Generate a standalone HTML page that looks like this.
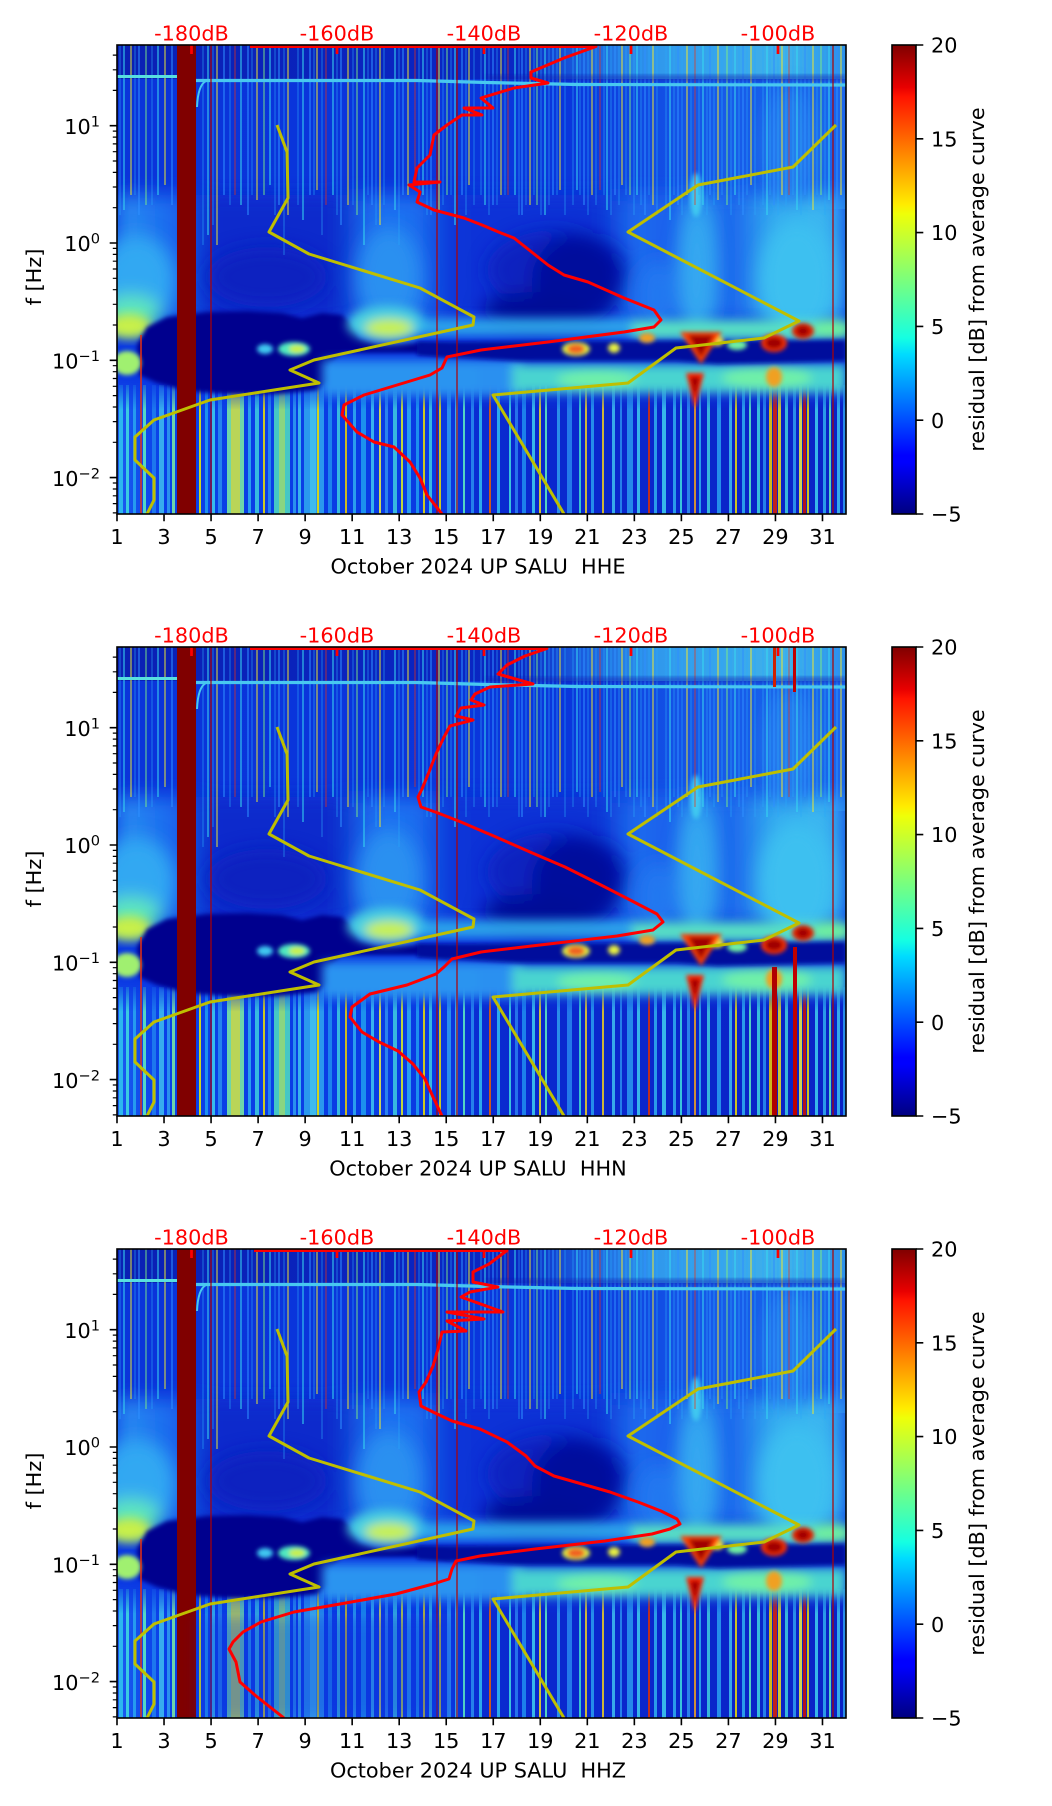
<!DOCTYPE html>
<html><head><meta charset="utf-8">
<style>
html,body{margin:0;padding:0;background:#fff;width:1052px;height:1806px;overflow:hidden}
svg{display:block}
text{font-family:"DejaVu Sans","Liberation Sans",sans-serif;font-size:20.8px;fill:#000}
.r{fill:#ff0000}
</style></head><body>
<svg width="1052" height="1806" viewBox="0 0 1052 1806" xmlns="http://www.w3.org/2000/svg">
<defs>
<filter id="b2" x="-20%" y="-20%" width="140%" height="140%"><feGaussianBlur stdDeviation="2"/></filter>
<filter id="b5" x="-30%" y="-30%" width="160%" height="160%"><feGaussianBlur stdDeviation="5"/></filter>
<filter id="b9" x="-40%" y="-40%" width="180%" height="180%"><feGaussianBlur stdDeviation="9"/></filter>
<clipPath id="clip"><rect width="729" height="469"/></clipPath>
<linearGradient id="jet" x1="0" y1="1" x2="0" y2="0">
<stop offset="0" stop-color="#000080"/><stop offset="0.11" stop-color="#0000ff"/><stop offset="0.125" stop-color="#0000ff"/>
<stop offset="0.34" stop-color="#00dbff"/><stop offset="0.375" stop-color="#15ffe2"/><stop offset="0.64" stop-color="#efff08"/>
<stop offset="0.66" stop-color="#ffec00"/><stop offset="0.89" stop-color="#ff1300"/><stop offset="0.91" stop-color="#e80000"/>
<stop offset="1" stop-color="#800000"/></linearGradient>
<linearGradient id="gTop" x1="0" y1="0" x2="1" y2="0">
<stop offset="0" stop-color="#0a20b4"/><stop offset="0.55" stop-color="#0a26c4"/><stop offset="0.64" stop-color="#1a5ede"/>
<stop offset="0.74" stop-color="#3098ec"/><stop offset="0.92" stop-color="#40b2ea"/><stop offset="1" stop-color="#2c90ea"/></linearGradient>
<linearGradient id="gUp" x1="0" y1="0" x2="1" y2="0">
<stop offset="0" stop-color="#0a34da"/><stop offset="0.62" stop-color="#0a36dc"/><stop offset="0.8" stop-color="#1658e8"/><stop offset="1" stop-color="#1a66ec"/></linearGradient>
<linearGradient id="gMid" x1="0" y1="0" x2="1" y2="0">
<stop offset="0" stop-color="#2a90f2"/><stop offset="0.08" stop-color="#1a66ee"/><stop offset="0.13" stop-color="#0a2ccc"/>
<stop offset="0.3" stop-color="#0a2ccc"/><stop offset="0.35" stop-color="#1e70f0"/><stop offset="0.41" stop-color="#1e70f0"/>
<stop offset="0.46" stop-color="#0a34d8"/><stop offset="0.66" stop-color="#0a30d4"/><stop offset="0.71" stop-color="#1e6cee"/>
<stop offset="0.76" stop-color="#1a5eec"/><stop offset="0.8" stop-color="#2c98f0"/><stop offset="0.84" stop-color="#1a60ec"/>
<stop offset="0.9" stop-color="#34acf0"/><stop offset="0.97" stop-color="#3cb8f0"/><stop offset="1" stop-color="#2c90ee"/></linearGradient>
<linearGradient id="gBot" x1="0" y1="0" x2="1" y2="0">
<stop offset="0" stop-color="#1a5cf0"/><stop offset="0.06" stop-color="#0a40e8"/><stop offset="0.45" stop-color="#0a3ae2"/>
<stop offset="0.5" stop-color="#0a2ad0"/><stop offset="1" stop-color="#0a22c6"/></linearGradient>
<linearGradient id="gFade" x1="0" y1="0" x2="0" y2="1">
<stop offset="0" stop-color="#fff" stop-opacity="0"/><stop offset="0.25" stop-color="#fff" stop-opacity="1"/><stop offset="1" stop-color="#fff" stop-opacity="1"/></linearGradient>
<mask id="fadeB" maskUnits="userSpaceOnUse" x="0" y="0" width="729" height="469"><rect y="330" width="729" height="139" fill="url(#gFade)"/></mask>

<g id="spec">
<rect width="729" height="469" fill="#0a36e2"/>
<rect width="729" height="34" fill="url(#gTop)"/>
<rect y="34" width="729" height="130" fill="url(#gUp)"/>
<rect y="150" width="729" height="125" fill="url(#gMid)" filter="url(#b9)"/>
<g filter="url(#b9)">
<ellipse cx="20" cy="235" rx="38" ry="45" fill="#30a8f2"/>
<ellipse cx="14" cy="268" rx="30" ry="18" fill="#60e8b8"/>
<ellipse cx="150" cy="232" rx="60" ry="30" fill="#0a22c0"/>
<ellipse cx="272" cy="232" rx="32" ry="50" fill="#2a90f0"/>
<ellipse cx="440" cy="225" rx="70" ry="40" fill="#0a24c0"/>
<ellipse cx="460" cy="235" rx="45" ry="45" fill="#000c9c"/>
<ellipse cx="420" cy="265" rx="55" ry="18" fill="#000a96"/>
<ellipse cx="580" cy="225" rx="18" ry="65" fill="#34a8f0"/>
<ellipse cx="680" cy="235" rx="38" ry="60" fill="#3cc0f0"/>
<ellipse cx="540" cy="250" rx="20" ry="35" fill="#2478f0"/>
<ellipse cx="672" cy="100" rx="25" ry="60" fill="#2a88ee" opacity="0.7"/>
</g>
<ellipse cx="579" cy="150" rx="6" ry="22" fill="#40c8f0" filter="url(#b2)"/>
<ellipse cx="12" cy="281" rx="22" ry="12" fill="#c8f048" filter="url(#b5)"/>
<!-- bottom streak region -->
<g mask="url(#fadeB)">
<rect y="330" width="729" height="139" fill="url(#gBot)"/>
<g opacity="0.85">
<rect x="2" y="340" width="4" height="129" fill="#30c8f0"/><rect x="9" y="340" width="3" height="129" fill="#40e0e0"/><rect x="16" y="340" width="3" height="129" fill="#2aa8f0"/><rect x="26" y="340" width="3" height="129" fill="#60f0c0"/><rect x="35" y="340" width="4" height="129" fill="#2080f0"/><rect x="42" y="340" width="5" height="129" fill="#40c0f0"/><rect x="50" y="340" width="3" height="129" fill="#30a0f0"/><rect x="55" y="340" width="3" height="129" fill="#80f0a0"/>
<rect x="82" y="340" width="2" height="129" fill="#f0f000"/><rect x="88" y="340" width="3" height="129" fill="#20a0f0"/><rect x="95" y="340" width="3" height="129" fill="#40d0f0"/><rect x="101" y="340" width="4" height="129" fill="#2a90f0"/>
<rect x="110" y="340" width="17" height="129" fill="#80f0a0"/><rect x="114" y="340" width="9" height="129" fill="#d8f040"/>
<rect x="131" y="340" width="3" height="129" fill="#30b0f0"/><rect x="138" y="340" width="4" height="129" fill="#40d0e0"/><rect x="146" y="340" width="2" height="129" fill="#f0e000"/><rect x="151" y="340" width="3" height="129" fill="#2a90f0"/>
<rect x="157" y="340" width="16" height="129" fill="#50e0c0"/><rect x="162" y="340" width="6" height="129" fill="#a0f070"/>
<rect x="176" y="340" width="3" height="129" fill="#30a0f0"/><rect x="181" y="340" width="3" height="129" fill="#40c8f0"/><rect x="187" y="340" width="20" height="129" fill="#30a8f0"/><rect x="193" y="340" width="6" height="129" fill="#48d0f0"/><rect x="200" y="340" width="2" height="129" fill="#f0f000"/>
<rect x="211" y="340" width="4" height="129" fill="#2090f0"/><rect x="220" y="340" width="3" height="129" fill="#40d0e0"/><rect x="228" y="340" width="2" height="129" fill="#f0d000"/><rect x="236" y="340" width="3" height="129" fill="#30b0f0"/><rect x="244" y="340" width="5" height="129" fill="#20a0f0"/><rect x="254" y="340" width="3" height="129" fill="#40c8f0"/><rect x="262" y="340" width="2" height="129" fill="#f0f040"/><rect x="268" y="340" width="3" height="129" fill="#3090f0"/><rect x="276" y="340" width="4" height="129" fill="#40d0e0"/><rect x="284" y="340" width="2" height="129" fill="#e0f020"/><rect x="290" y="340" width="4" height="129" fill="#30b0f0"/><rect x="299" y="340" width="3" height="129" fill="#20a0f0"/><rect x="306" y="340" width="2" height="129" fill="#f0e000"/><rect x="312" y="340" width="3" height="129" fill="#40d0e0"/><rect x="322" y="340" width="2" height="129" fill="#f0e000"/><rect x="330" y="340" width="4" height="129" fill="#30a0f0"/><rect x="338" y="340" width="3" height="129" fill="#40c0f0"/><rect x="346" y="340" width="2" height="129" fill="#60f0c0"/><rect x="354" y="340" width="3" height="129" fill="#2a90f0"/>
<rect x="362" y="340" width="3" height="129" fill="#30c0f0"/><rect x="372" y="340" width="2" height="129" fill="#f06000"/><rect x="380" y="340" width="3" height="129" fill="#30c0f0"/><rect x="392" y="340" width="2" height="129" fill="#40e0e0"/><rect x="398" y="340" width="3" height="129" fill="#2a80f0"/><rect x="405" y="340" width="4" height="129" fill="#2090f0"/><rect x="415" y="340" width="3" height="129" fill="#40d0f0"/><rect x="422" y="340" width="2" height="129" fill="#f0e020"/><rect x="428" y="340" width="2" height="129" fill="#60f0c0"/><rect x="440" y="340" width="3" height="129" fill="#30a0f0"/><rect x="450" y="340" width="5" height="129" fill="#2888f0"/><rect x="462" y="340" width="2" height="129" fill="#40e0d0"/><rect x="468" y="340" width="2" height="129" fill="#f0d020"/><rect x="474" y="340" width="3" height="129" fill="#2aa0f0"/><rect x="485" y="340" width="2" height="129" fill="#f0d020"/><rect x="495" y="340" width="3" height="129" fill="#40c0f0"/><rect x="503" y="340" width="2" height="129" fill="#2a90f0"/><rect x="510" y="340" width="6" height="129" fill="#2a9cf0"/><rect x="520" y="340" width="3" height="129" fill="#40d0f0"/><rect x="531" y="340" width="2" height="129" fill="#e03000"/><rect x="537" y="340" width="3" height="129" fill="#30b0f0"/><rect x="545" y="340" width="4" height="129" fill="#40d0f0"/><rect x="556" y="340" width="3" height="129" fill="#30b0f0"/><rect x="563" y="340" width="2" height="129" fill="#40e0e0"/><rect x="570" y="340" width="3" height="129" fill="#3090f0"/><rect x="577" y="340" width="2" height="129" fill="#f0a020"/><rect x="582" y="340" width="2" height="129" fill="#30b0f0"/><rect x="590" y="340" width="3" height="129" fill="#40d0e0"/><rect x="600" y="340" width="4" height="129" fill="#2aa0f0"/><rect x="612" y="340" width="3" height="129" fill="#40c0f0"/><rect x="618" y="340" width="2" height="129" fill="#f0e000"/><rect x="625" y="340" width="3" height="129" fill="#30b0f0"/><rect x="632" y="340" width="2" height="129" fill="#60f0c0"/><rect x="640" y="340" width="3" height="129" fill="#40d8e0"/><rect x="646" y="340" width="3" height="129" fill="#2a90f0"/><rect x="652" y="340" width="3" height="129" fill="#f0d000"/><rect x="656" y="340" width="4" height="129" fill="#e02000"/><rect x="661" y="340" width="3" height="129" fill="#f0e020"/><rect x="668" y="340" width="3" height="129" fill="#40d0e0"/><rect x="676" y="340" width="3" height="129" fill="#30a0f0"/><rect x="682" y="340" width="3" height="129" fill="#f0f040"/><rect x="686" y="340" width="3" height="129" fill="#d01000"/><rect x="690" y="340" width="2" height="129" fill="#f0e000"/><rect x="698" y="340" width="3" height="129" fill="#40d0f0"/><rect x="706" y="340" width="3" height="129" fill="#30b0f0"/><rect x="712" y="340" width="2" height="129" fill="#60f0c0"/><rect x="720" y="340" width="3" height="129" fill="#40c0f0"/><rect x="726" y="340" width="3" height="129" fill="#30a0f0"/>
</g>
</g>
<!-- navy blob left -->
<polygon points="20,300 30,282 50,272 90,267 130,266 165,268 185,273 205,268 225,270 236,280 242,293 260,299 300,298 330,301 335,312 300,308 260,308 225,308 212,320 214,335 200,345 160,349 110,349 70,346 40,338 22,330" fill="#00008e" filter="url(#b2)"/>
<g filter="url(#b2)">
<ellipse cx="177" cy="304" rx="16" ry="7" fill="#50e8c0"/>
<ellipse cx="180" cy="304" rx="8" ry="4" fill="#c8f048"/>
<ellipse cx="148" cy="304" rx="8" ry="5" fill="#40c8f0"/>
<ellipse cx="10" cy="318" rx="14" ry="12" fill="#a0f070"/>
</g>
<!-- bright band -->
<g filter="url(#b5)">
<ellipse cx="270" cy="279" rx="40" ry="18" fill="#48d0e0"/>
<rect x="300" y="273" width="220" height="18" fill="#34b4ec" opacity="0.85"/>
<rect x="515" y="275" width="214" height="19" fill="#58e0c4"/>
<ellipse cx="272" cy="283" rx="24" ry="9" fill="#c8f050"/>
<ellipse cx="715" cy="284" rx="20" ry="10" fill="#70f0a0"/>
</g>
<!-- lower cyan band -->
<g filter="url(#b5)">
<rect x="205" y="315" width="200" height="36" fill="#2a94f0"/>
<rect x="360" y="320" width="40" height="28" fill="#2a90f0"/>
<rect x="395" y="319" width="334" height="29" fill="#48d4d0"/>
<ellipse cx="480" cy="335" rx="40" ry="9" fill="#70f0a8"/>
<ellipse cx="650" cy="333" rx="45" ry="11" fill="#70f0a8"/>
</g>
<!-- navy band right -->
<polygon points="300,297 729,295 729,316 600,319 560,316 400,316 300,310" fill="#000c9c" filter="url(#b2)"/>
<!-- hot blobs -->
<g filter="url(#b2)">
<ellipse cx="459" cy="304" rx="14" ry="7" fill="#e0f040"/>
<ellipse cx="459" cy="304" rx="9" ry="5" fill="#f06020"/>
<ellipse cx="497" cy="303" rx="6" ry="5" fill="#e8f040"/>
<ellipse cx="530" cy="293" rx="8" ry="5" fill="#f0a020"/>
<ellipse cx="600" cy="296" rx="7" ry="5" fill="#f0e040"/>
<ellipse cx="620" cy="300" rx="10" ry="5" fill="#70f0a0"/>
<polygon points="563,287 605,287 584,319" fill="#ff4000"/>
<polygon points="571,290 597,290 584,313" fill="#a00000"/>
<ellipse cx="657" cy="298" rx="13" ry="9" fill="#ff3000"/>
<ellipse cx="657" cy="298" rx="9" ry="6" fill="#a00000"/>
<ellipse cx="686" cy="286" rx="11" ry="8" fill="#e02000"/>
<ellipse cx="686" cy="286" rx="6" ry="5" fill="#a00000"/>
<ellipse cx="657" cy="332" rx="8" ry="10" fill="#f0a020"/>
<polygon points="569,328 587,328 578,364" fill="#ff2000"/>
<polygon points="573,332 583,332 578,354" fill="#a00000"/>
</g>
<!-- upper streaks -->
<g fill="none" stroke-width="1.3">
<path stroke="#38d8f0" stroke-opacity="0.8" d="M7 0V165M41 0V150M91 0V190M124 0V160M153 0V140M186 0V175M216 0V150M247 0V200M278 0V165M306 0V150M338 0V180M368 0V160M398 0V150M428 0V170M460 0V145M490 0V165M520 0V150M553 0V175M586 0V160M618 0V150M650 0V170M680 0V165M712 0V155"/>
<path stroke="#f0e830" stroke-opacity="0.75" d="M14 0V150M48 0V140M100 0V200M140 0V155M171 0V170M200 0V145M231 0V160M263 0V180M291 0V150M322 0V165M352 0V140M384 0V150M413 0V160M443 0V145M475 0V150M505 0V140M536 0V160M570 0V150M601 0V155M634 0V140M665 0V150M696 0V165M724 0V150"/>
<path stroke="#3090ff" stroke-opacity="0.8" d="M22 0V170M55 0V160M107 0V150M131 0V170M162 0V160M193 0V150M224 0V180M255 0V160M286 0V150M314 0V170M345 0V150M376 0V160M405 0V170M436 0V150M467 0V160M498 0V150M528 0V170M561 0V160M593 0V150M626 0V170M657 0V160M688 0V150M720 0V170"/>
<path stroke="#f03010" stroke-opacity="0.7" stroke-width="1" d="M118 0V150M209 0V160M298 0V140M391 0V150M483 0V145M578 0V160M672 0V150"/>
<path stroke="#80f080" stroke-opacity="0.7" d="M29 0V160M147 0V150M240 0V170M330 0V150M420 0V160M513 0V150M610 0V160M704 0V150"/>
<path stroke="#2aa8f8" stroke-opacity="0.6" stroke-width="1" d="M3 0V170M18 0V150M35 0V160M86 0V200M96 0V180M113 0V160M135 0V150M158 0V170M167 0V210M181 0V160M197 0V150M205 0V190M220 0V170M236 0V160M251 0V150M259 0V180M267 0V160M282 0V200M302 0V150M310 0V170M326 0V160M334 0V150M349 0V170M357 0V160M364 0V150M372 0V170M380 0V160M388 0V150M402 0V170M409 0V160M417 0V150M424 0V170M432 0V160M440 0V150M448 0V170M456 0V160M463 0V150M471 0V170M479 0V160M487 0V150M494 0V170M502 0V160M509 0V150M517 0V170M524 0V160M532 0V150M540 0V170M549 0V160M557 0V150M565 0V170M574 0V160M582 0V150M590 0V170M597 0V160M605 0V150M614 0V170M622 0V160M630 0V150M638 0V170M646 0V160M653 0V150M661 0V170M669 0V160M676 0V150M684 0V170M692 0V160M700 0V150M708 0V170M716 0V160"/>
</g>
<!-- 25 Hz line -->
<rect x="370" y="30" width="359" height="6" fill="#0a1eb0" opacity="0.5" filter="url(#b2)"/>
<path d="M0 31.5H60" stroke="#58e0e0" stroke-width="3" fill="none"/>
<path d="M79 35.5L300 35.5L370 37.5L460 39.5L729 40" stroke="#48c8f0" stroke-width="3.2" fill="none"/>
<path d="M89 36Q81 40 80 62" stroke="#48c8f0" stroke-width="2" fill="none"/>
<!-- dark red bar and lines -->
<rect x="60" y="0" width="19" height="469" fill="#800000"/>
<path d="M94 0V469M320 0V469M340 0V469M716 0V469" stroke="#b00000" stroke-width="1.2" fill="none"/>
<path d="M24 290V469" stroke="#e83010" stroke-width="1.5" fill="none"/>
</g>

<g id="yel" fill="none" stroke="#bfbf00" stroke-width="3" stroke-linejoin="round">
<path d="M160 80L170 107L171 153L152 187L192 209L303 243L357 272L356 280L197 315L173 325L202 338L93 355L37 375L18 392L18 415L37 433L37 455L30 469"/>
<path d="M447 469L376 350L511 338L559 303L647 293L682 276L511 187L581 140L676 122L719 80"/>
</g>
<path id="rticks" d="M74.5 0v9M220 0v9M367 0v9M514 0v9M661 0v9" stroke="#ff0000" stroke-width="2.7" fill="none"/>

<g id="axes">
<rect x="0" y="0" width="729" height="469" fill="none" stroke="#000" stroke-width="1.6"/>
<path stroke="#000" stroke-width="1.6" fill="none" d="M0 469v7.3M47.03 469v7.3M94.06 469v7.3M141.1 469v7.3M188.13 469v7.3M235.16 469v7.3M282.19 469v7.3M329.22 469v7.3M376.26 469v7.3M423.29 469v7.3M470.32 469v7.3M517.35 469v7.3M564.38 469v7.3M611.42 469v7.3M658.45 469v7.3M705.48 469v7.3M0 80.7h-7.3M0 198h-7.3M0 315.3h-7.3M0 432.6h-7.3"/>
<path stroke="#000" stroke-width="1.2" fill="none" d="M0 45.4h-4.2M0 24.8h-4.2M0 10.1h-4.2M0 162.7h-4.2M0 142h-4.2M0 127.4h-4.2M0 116h-4.2M0 106.7h-4.2M0 98.9h-4.2M0 92.1h-4.2M0 86.1h-4.2M0 280h-4.2M0 259.3h-4.2M0 244.7h-4.2M0 233.3h-4.2M0 224h-4.2M0 216.2h-4.2M0 209.4h-4.2M0 203.4h-4.2M0 397.3h-4.2M0 376.6h-4.2M0 362h-4.2M0 350.6h-4.2M0 341.3h-4.2M0 333.5h-4.2M0 326.7h-4.2M0 320.7h-4.2M0 467.9h-4.2M0 458.6h-4.2M0 450.8h-4.2M0 444h-4.2M0 438h-4.2"/>
</g>

<g id="txt">
<text class="r" x="191.5" y="40.7" text-anchor="middle">-180dB</text>
<text class="r" x="337" y="40.7" text-anchor="middle">-160dB</text>
<text class="r" x="484" y="40.7" text-anchor="middle">-140dB</text>
<text class="r" x="631" y="40.7" text-anchor="middle">-120dB</text>
<text class="r" x="778" y="40.7" text-anchor="middle">-100dB</text>
<g text-anchor="middle">
<text x="117" y="544">1</text><text x="164" y="544">3</text><text x="211.1" y="544">5</text><text x="258.1" y="544">7</text><text x="305.1" y="544">9</text><text x="352.2" y="544">11</text><text x="399.2" y="544">13</text><text x="446.2" y="544">15</text><text x="493.3" y="544">17</text><text x="540.3" y="544">19</text><text x="587.3" y="544">21</text><text x="634.4" y="544">23</text><text x="681.4" y="544">25</text><text x="728.4" y="544">27</text><text x="775.4" y="544">29</text><text x="822.5" y="544">31</text>
</g>
<g text-anchor="end">
<text x="100" y="133.9">10<tspan dy="-7.5" font-size="14.6">1</tspan></text>
<text x="100" y="251.2">10<tspan dy="-7.5" font-size="14.6">0</tspan></text>
<text x="100" y="368.5">10<tspan dy="-7.5" font-size="14.6">−1</tspan></text>
<text x="100" y="485.8">10<tspan dy="-7.5" font-size="14.6">−2</tspan></text>
</g>
<text transform="translate(40.8,277) rotate(-90)" text-anchor="middle">f [Hz]</text>
<rect x="892" y="45" width="24" height="469" fill="url(#jet)" stroke="#000" stroke-width="1.6"/>
<path stroke="#000" stroke-width="1.6" fill="none" d="M916 45h7.3M916 138.8h7.3M916 232.6h7.3M916 326.4h7.3M916 420.2h7.3M916 514h7.3"/>
<text x="931" y="52.6">20</text><text x="931" y="146.4">15</text><text x="931" y="240.2">10</text><text x="931" y="334">5</text><text x="931" y="427.8">0</text><text x="931" y="521.6">−5</text>
<text transform="translate(984,279.5) rotate(-90)" text-anchor="middle">residual [dB] from average curve</text>
</g>
</defs>

<!-- Panel 1 -->
<g>
<use href="#txt"/>
<text x="478" y="573.5" text-anchor="middle">October 2024 UP SALU &#160;HHE</text>
<g transform="translate(117,45)">
<g clip-path="url(#clip)">
<use href="#spec"/>
<use href="#yel"/>
<path d="M133 1.5L479 1.5L447 13L414 27L414 33L431 38L397 43L364 53L376 63L347 63L365 70L345 70L330 80L317 90L313 110L300 123L297 137L323 137L292 140L303 147L300 157L317 165L347 173L365 180L384 188L397 193L431 220L447 230L471 237L507 253L537 265L544 275L537 282L507 287L431 297L364 305L330 312L325 323L313 330L290 337L247 350L227 360L225 370L240 387L257 397L277 402L293 417L303 433L310 450L325 469" fill="none" stroke="#ff0000" stroke-width="3" stroke-linejoin="round"/>
<use href="#rticks"/>
</g>
<use href="#axes"/>
</g>
</g>

<!-- Panel 2 -->
<g transform="translate(0,602)">
<use href="#txt"/>
<text x="478" y="573.5" text-anchor="middle">October 2024 UP SALU &#160;HHN</text>
<g transform="translate(117,45)">
<g clip-path="url(#clip)">
<use href="#spec"/>
<rect x="655" y="320" width="5" height="149" fill="#b00000"/>
<rect x="676" y="300" width="4" height="169" fill="#c00000"/>
<rect x="656" y="0" width="3" height="40" fill="#d02000"/>
<rect x="676" y="0" width="3" height="45" fill="#c00000"/>
<use href="#yel"/>
<path d="M133 1.5L430 1.5L408 9L390 18L381 27L416 37L373 40L358 47L354 53L367 58L344 61L339 69L356 73L333 79L327 90L319 107L312 125L305 142L301 150L304 160L321 166L344 175L379 190L413 205L448 220L482 237L517 255L540 267L546 275L536 283L500 289L440 296L364 305L335 312L327 320L319 327L290 338L253 347L235 360L233 370L245 385L262 395L281 404L296 417L308 432L316 450L325 469" fill="none" stroke="#ff0000" stroke-width="3" stroke-linejoin="round"/>
<use href="#rticks"/>
</g>
<use href="#axes"/>
</g>
</g>

<!-- Panel 3 -->
<g transform="translate(0,1204)">
<use href="#txt"/>
<text x="478" y="573.5" text-anchor="middle">October 2024 UP SALU &#160;HHZ</text>
<g transform="translate(117,45)">
<g clip-path="url(#clip)">
<use href="#spec"/>
<rect x="85" y="365" width="250" height="110" fill="#0a30dc" opacity="0.4" filter="url(#b9)"/>
<use href="#yel"/>
<path d="M137 1.5L390 1.5L372 15L356 23L356 33L381 38L353 43L344 48L386 63L330 63L367 70L330 72L349 82L325 83L321 100L316 117L309 133L302 143L304 157L316 163L335 172L363 180L390 193L409 207L418 217L437 227L465 235L493 243L521 253L544 262L560 270L563 275L553 280L535 285L488 292L418 300L363 307L339 312L335 320L332 330L316 335L279 345L223 355L177 363L144 373L126 383L116 393L112 400L119 413L123 433L139 447L167 469" fill="none" stroke="#ff0000" stroke-width="3" stroke-linejoin="round"/>
<use href="#rticks"/>
</g>
<use href="#axes"/>
</g>
</g>
</svg>
</body></html>
